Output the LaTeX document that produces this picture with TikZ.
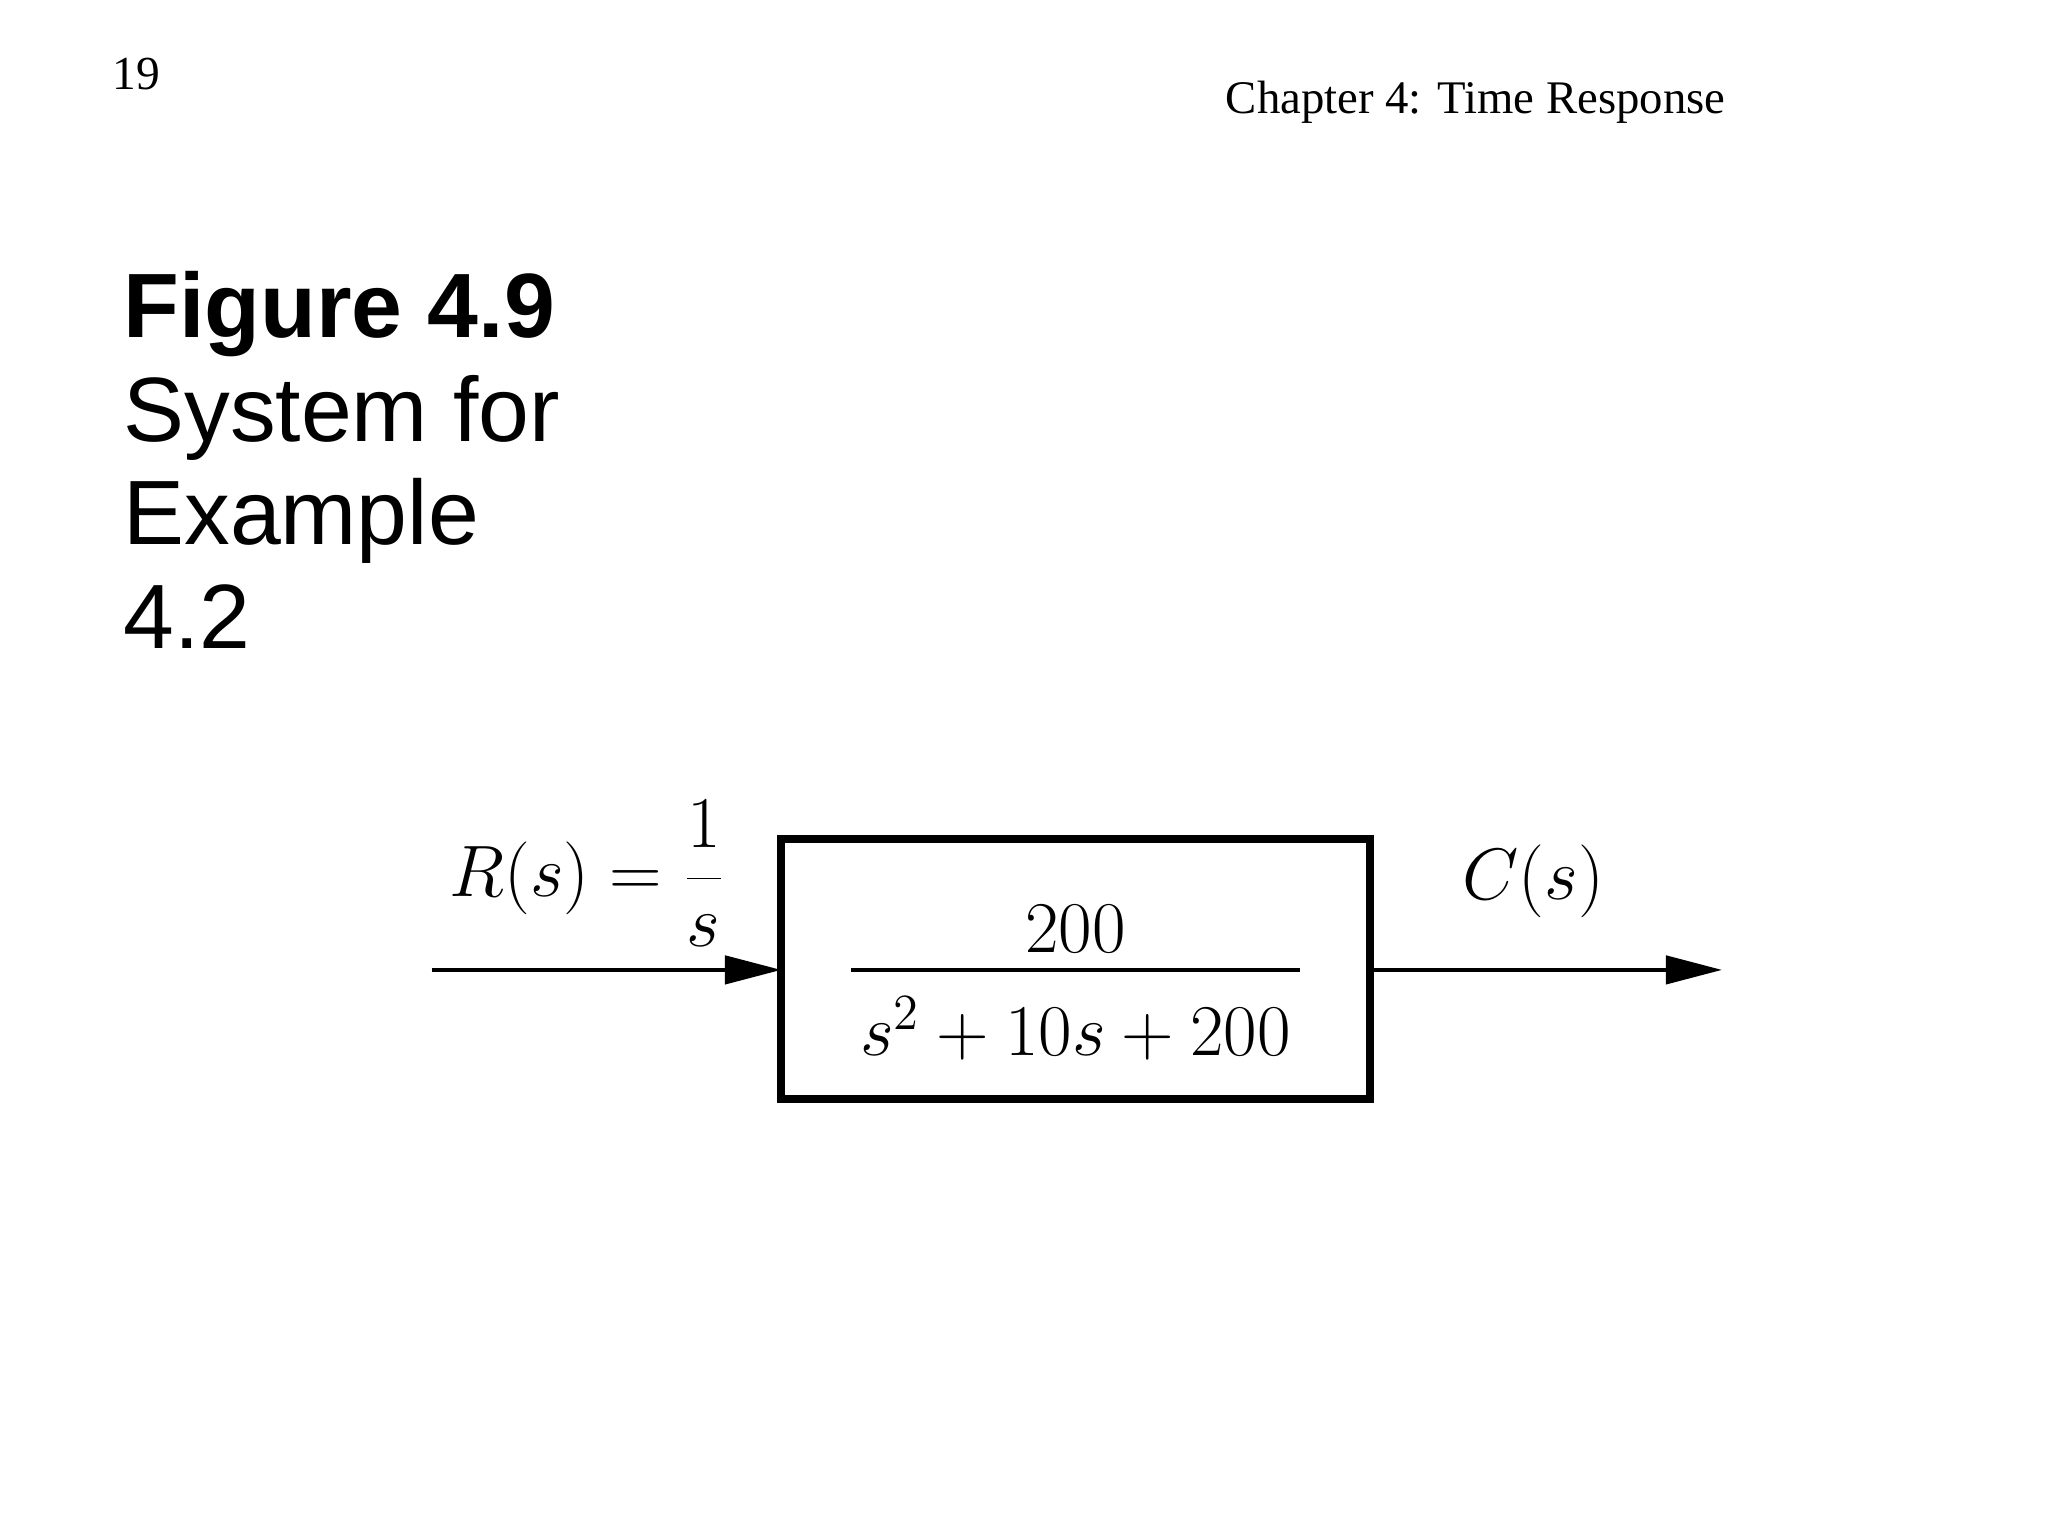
\documentclass[tikz,border=0pt]{standalone}
\usepackage{fontspec}
\setmainfont{Liberation Serif}
\newfontfamily\arial{Liberation Sans}
\usetikzlibrary{arrows.meta}
\begin{document}
\begin{tikzpicture}[x=0.0132cm,y=-0.0132cm,
  sig/.style={line width=1.2pt,-{Triangle[length=16pt,width=8pt]}},
  lbl/.style={inner sep=0pt,font=\fontsize{21}{25}\selectfont}]
\useasboundingbox (0,0) rectangle (1552,1164);
\node[anchor=base west,inner sep=0pt,font=\fontsize{13.5}{16}\selectfont] (pg) at (85,68) {19};
\node[anchor=base east,inner sep=0pt,font=\fontsize{13.3}{16}\selectfont] (ch) at (1308,86) {Chapter 4: Time Response};
\node[anchor=north west,inner sep=0pt,align=left,font=\arial\fontsize{26}{29.5}\selectfont] (fig) at (93,205)
  {\textbf{Figure 4.9}\\System for\\Example\\4.2};
\coordinate (gtl) at (592,636);
\coordinate (gbr) at (1038,833);
\draw[line width=2.4pt] (gtl) rectangle (gbr);
\coordinate (gl) at (592,735);
\coordinate (gr) at (1040,735);
\coordinate (in) at (327,735);
\coordinate (out) at (1305,735);
\draw[sig] (in) -- (gl);
\draw[sig] (gr) -- (out);
\coordinate (fl) at (645,735);
\coordinate (fr) at (985,735);
\draw[line width=1.2pt] (fl) -- (fr);
\node[lbl,anchor=base] (num) at (815,722) {$200$};
\node[lbl,anchor=base] (den) at (815,800) {$s^2+10s+200$};
\node[lbl] (r) at (445,662) {$R(s)=\displaystyle\frac{1}{s}$};
\node[lbl] (c) at (1162,668) {$C(s)$};
\end{tikzpicture}
\end{document}
